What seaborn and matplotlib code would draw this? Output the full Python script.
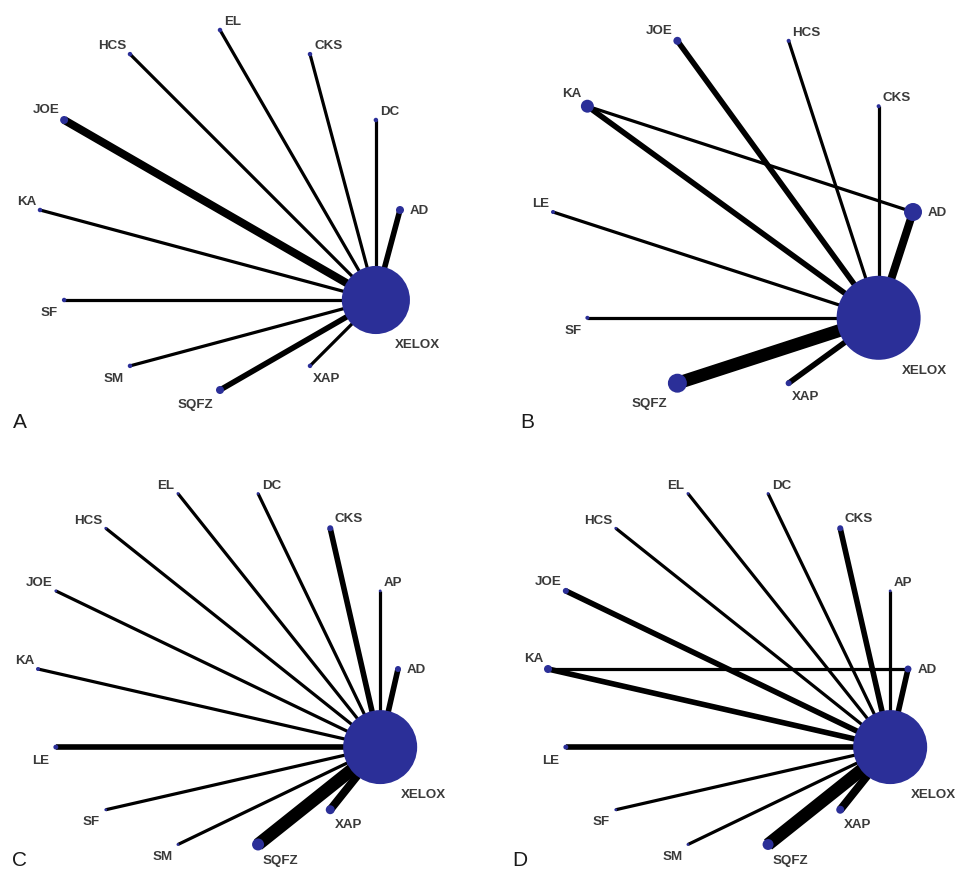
import numpy as np
import pandas as pd
import matplotlib
matplotlib.use("Agg")
import matplotlib.pyplot as plt
import seaborn as sns

# Nodes of each network (in plotting order, counter-clockwise from 3 o'clock)
nodes_a = ["AD", "DC", "CKS", "EL", "HCS", "JOE", "KA", "SF", "SM", "SQFZ", "XAP", "XELOX"]
nodes_b = ["AD", "CKS", "HCS", "JOE", "KA", "LE", "SF", "SQFZ", "XAP", "XELOX"]
nodes_c = ["AD", "AP", "CKS", "DC", "EL", "HCS", "JOE", "KA", "LE", "SF", "SM", "SQFZ", "XAP", "XELOX"]
nodes_d = ["AD", "AP", "CKS", "DC", "EL", "HCS", "JOE", "KA", "LE", "SF", "SM", "SQFZ", "XAP", "XELOX"]

# Node weights (relative sample size, proportional to marker area)
weight_a = [16, 5, 5, 5, 5, 16, 5, 5, 5, 16, 5, 1160]
weight_b = [81, 4, 4, 16, 42, 4, 4, 90, 9, 1764]
weight_c = [9, 2, 9, 2, 2, 2, 2, 4, 6, 2, 2, 36, 20, 1369]
weight_d = [12, 2, 9, 2, 2, 2, 9, 16, 6, 2, 2, 30, 16, 1369]

# Comparisons: (treatment 1, treatment 2, number of studies)
edges_a = [("XELOX", "AD", 2), ("XELOX", "DC", 1), ("XELOX", "CKS", 1), ("XELOX", "EL", 1),
           ("XELOX", "HCS", 1), ("XELOX", "JOE", 3), ("XELOX", "KA", 1), ("XELOX", "SF", 1),
           ("XELOX", "SM", 1), ("XELOX", "SQFZ", 2), ("XELOX", "XAP", 1)]
edges_b = [("XELOX", "AD", 3), ("XELOX", "CKS", 1), ("XELOX", "HCS", 1), ("XELOX", "JOE", 2),
           ("XELOX", "KA", 2), ("KA", "AD", 1), ("XELOX", "LE", 1), ("XELOX", "SF", 1),
           ("XELOX", "SQFZ", 5), ("XELOX", "XAP", 2)]
edges_c = [("XELOX", "AD", 2), ("XELOX", "AP", 1), ("XELOX", "CKS", 2), ("XELOX", "DC", 1),
           ("XELOX", "EL", 1), ("XELOX", "HCS", 1), ("XELOX", "JOE", 1), ("XELOX", "KA", 1),
           ("XELOX", "LE", 2), ("XELOX", "SF", 1), ("XELOX", "SM", 1), ("XELOX", "SQFZ", 5),
           ("XELOX", "XAP", 3)]
edges_d = [("XELOX", "AD", 2), ("XELOX", "AP", 1), ("XELOX", "CKS", 2), ("XELOX", "DC", 1),
           ("XELOX", "EL", 1), ("XELOX", "HCS", 1), ("XELOX", "JOE", 2), ("XELOX", "KA", 2),
           ("XELOX", "LE", 2), ("XELOX", "SF", 1), ("XELOX", "SM", 1), ("XELOX", "SQFZ", 5),
           ("XELOX", "XAP", 3), ("KA", "AD", 1)]

panel_letters = ["A", "B", "C", "D"]

sns.set_theme(style="white")
plt.rcParams["font.family"] = ["Liberation Sans", "DejaVu Sans"]

W, H = 957, 871
PX = 72.0 / 100  # pixels -> points
NODE_COLOR = "#2b2f98"

fig = plt.figure(figsize=(W / 100, H / 100), dpi=100)
fig.patch.set_facecolor("white")

# panel boxes (pixels: x0, y0, x1, y1), circle centre and radius in pixels
boxes = [(0, 0, 478, 435), (478, 0, 957, 435), (0, 435, 478, 871), (478, 435, 957, 871)]
centres = [(220, 210), (733, 212), (218, 669), (728, 669)]
R = 180
letter_pos = [(0.027, 0.016), (0.088, 0.016), (0.025, 0.012), (0.071, 0.012)]


def label_offset(theta, r):
    """Offset (px) and alignment of a node label, by position on the circle."""
    if theta < 1:
        return (r + 6, -1), "left", "center"
    if theta <= 90.5:
        return (0.5 * r + 3, r + 3), "left", "baseline"
    if theta <= 180.5:
        return (-(0.5 * r + 3), r + 3), "right", "baseline"
    if theta <= 270.5:
        return (-(0.5 * r + 5), -(r + 5)), "right", "top"
    return (0.5 * r + 2, -(r + 5)), "left", "top"


def draw_network(ax, nodes, weights, edges):
    n = len(nodes)
    theta = np.arange(n) * 360.0 / n
    df = pd.DataFrame({
        "node": nodes,
        "theta": theta,
        "x": np.cos(np.radians(theta)),
        "y": np.sin(np.radians(theta)),
        "weight": weights,
    })
    df["diam_px"] = 2 * np.sqrt(df["weight"])
    pos = df.set_index("node")

    for a, b, k in edges:
        ax.plot([pos.loc[a, "x"], pos.loc[b, "x"]], [pos.loc[a, "y"], pos.loc[b, "y"]],
                color="black", lw=(0.8 + 2.4 * k) * PX, solid_capstyle="butt",
                zorder=1, clip_on=False)

    sns.scatterplot(data=df, x="x", y="y", s=(df["diam_px"] * PX) ** 2,
                    color=NODE_COLOR, linewidth=0, ax=ax, zorder=3,
                    legend=False, clip_on=False)

    for _, row in df.iterrows():
        r = row["diam_px"] / 2
        (dx, dy), ha, va = label_offset(row["theta"], r)
        ax.annotate(row["node"], (row["x"], row["y"]), xytext=(dx * PX, dy * PX),
                    textcoords="offset points", ha=ha, va=va, fontsize=9.6,
                    fontweight="bold", color="#3a3a3a", zorder=4,
                    annotation_clip=False)


panels = [(nodes_a, weight_a, edges_a), (nodes_b, weight_b, edges_b),
          (nodes_c, weight_c, edges_c), (nodes_d, weight_d, edges_d)]

for (x0, y0, x1, y1), (cx, cy), (nodes, weights, edges), letter, lp in zip(
        boxes, centres, panels, panel_letters, letter_pos):
    ax = fig.add_axes([x0 / W, 1 - y1 / H, (x1 - x0) / W, (y1 - y0) / H])
    draw_network(ax, nodes, weights, edges)
    ax.set_xlim((x0 - cx) / R, (x1 - cx) / R)
    ax.set_ylim((cy - y1) / R, (cy - y0) / R)
    ax.set_axis_off()
    ax.text(lp[0], lp[1], letter, transform=ax.transAxes, fontsize=15,
            color="#1a1a1a", ha="left", va="baseline")

fig.savefig("out.png", dpi=100, facecolor="white")
